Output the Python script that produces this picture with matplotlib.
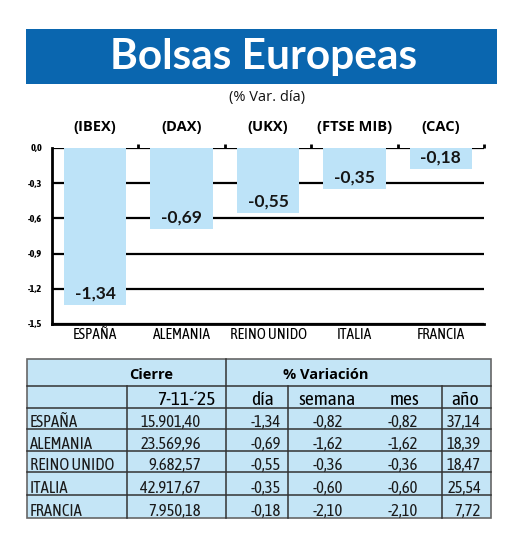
import matplotlib
matplotlib.use('Agg')
import matplotlib.pyplot as plt
import matplotlib.ticker as ticker
from matplotlib.patches import Rectangle

# datos
paises = ['ESPAÑA', 'ALEMANIA', 'REINO UNIDO', 'ITALIA', 'FRANCIA']
indices = ['(IBEX)', '(DAX)', '(UKX)', '(FTSE MIB)', '(CAC)']
var_dia = [-1.34, -0.69, -0.55, -0.35, -0.18]
cierre = ['15.901,40', '23.569,96', '9.682,57', '42.917,67', '7.950,18']
var_semana = [-0.82, -1.62, -0.36, -0.60, -2.10]
var_mes = [-0.82, -1.62, -0.36, -0.60, -2.10]
var_anio = [37.14, 18.39, 18.47, 25.54, 7.72]
yticks = [0.0, -0.3, -0.6, -0.9, -1.2, -1.5]

titulo = 'Bolsas Europeas'
subtitulo = '(% Var. día)'
fecha = '7-11-´25'

NARROW = ['Asap Condensed', 'DejaVu Sans']
SEMI = ['Open Sans', 'DejaVu Sans']
HUMAN = ['Lato', 'DejaVu Sans']
BAR_C = '#bde3f8'
TAB_C = '#c4e5f6'
BLUE = '#0a66af'


def coma(v, n=2):
    return f'{v:.{n}f}'.replace('.', ',')


W, H = 520, 543
fig = plt.figure(figsize=(W / 100, H / 100), dpi=100)

# capa de fondo en pixeles (titulo y tabla)
bg = fig.add_axes([0, 0, 1, 1])
bg.set_xlim(0, W)
bg.set_ylim(H, 0)
bg.axis('off')

bg.add_patch(Rectangle((26, 29), 471, 55, facecolor=BLUE, edgecolor='none'))
bg.text(264, 69, titulo, color='white', fontsize=30.5, fontweight='bold',
        family=HUMAN, ha='center', va='baseline')
bg.text(267, 97, subtitulo, fontsize=10.5, family=SEMI, ha='center', va='center',
        color='#111')

# grafico de barras
ax = fig.add_axes([52 / W, 1 - 324 / H, 432 / W, 176 / H])
x = list(range(len(paises)))
ax.set_axisbelow(True)
ax.bar(x, var_dia, width=0.72, color=BAR_C, zorder=2)
ax.set_xlim(-0.5, len(paises) - 0.5)
ax.set_ylim(-1.5, 0)
ax.set_yticks(yticks)
ax.yaxis.set_major_formatter(ticker.FuncFormatter(lambda v, p: coma(v, 1)))
ax.grid(True, axis='y', color='black', linewidth=1.6, zorder=0)
for s in ['top', 'right']:
    ax.spines[s].set_visible(False)
for s in ['left', 'bottom']:
    ax.spines[s].set_linewidth(2)
ax.tick_params(axis='y', length=0, pad=7, labelsize=7.5)
for lab in ax.get_yticklabels():
    lab.set_family(NARROW)
    lab.set_fontweight('bold')
ax.set_xticks(x)
ax.set_xticklabels(paises, family=NARROW, fontsize=11)
ax.tick_params(axis='x', length=0, pad=3)
# marcas arriba entre categorias
ax.set_xticks([i + 0.5 for i in x], minor=True)
ax.tick_params(axis='x', which='minor', top=True, bottom=False, direction='out',
               length=3, width=2, color='black')

for i, v in enumerate(var_dia):
    ax.annotate(coma(v), (i, v), xytext=(0, 4.5), textcoords='offset points',
                ha='center', va='baseline', fontsize=12.5, fontweight='bold',
                family=HUMAN, color='#151515')
    ax.text(i, 1.119, indices[i], transform=ax.get_xaxis_transform(),
            ha='center', va='center', fontsize=10.5, fontweight='bold', family=SEMI)

# tabla
tx0, tx1 = 27, 491
ty0, ty1 = 359, 518
bg.add_patch(Rectangle((tx0, ty0), tx1 - tx0, ty1 - ty0, facecolor=TAB_C,
                       edgecolor='#666', linewidth=1.2))
filas_y = [386, 408, 429, 451, 472, 495]
for yy in filas_y:
    bg.plot([tx0, tx1], [yy, yy], color='#333', linewidth=1.1)
for xx in [127, 288, 442]:
    bg.plot([xx, xx], [386, ty1], color='#333', linewidth=1.1)
bg.plot([226, 226], [ty0, ty1], color='#333', linewidth=1.1)

bg.text(151, 379, 'Cierre', fontsize=10.5, fontweight='bold', family=SEMI,
        ha='center', va='baseline')
bg.text(326, 379, '% Variación', fontsize=10.5, fontweight='bold', family=SEMI,
        ha='center', va='baseline')
cab = [(fecha, 186), ('día', 262), ('semana', 327), ('mes', 405), ('año', 465)]
for t, xx in cab:
    bg.text(xx, 405, t, fontsize=14, family=NARROW, ha='center', va='baseline')

fondos = [408, 429, 451, 472, 495, 518]
for r in range(len(paises)):
    yb = fondos[r + 1] - 2
    kw = dict(fontsize=12, family=NARROW, va='baseline', color='#1a1a1a')
    bg.text(30, yb, paises[r], ha='left', **kw)
    bg.text(201, yb, cierre[r], ha='right', **kw)
    bg.text(281, yb, coma(var_dia[r]), ha='right', **kw)
    bg.text(343, yb, coma(var_semana[r]), ha='right', **kw)
    bg.text(418, yb, coma(var_mes[r]), ha='right', **kw)
    bg.text(481, yb, coma(var_anio[r]), ha='right', **kw)

plt.savefig('out.png', dpi=100)
